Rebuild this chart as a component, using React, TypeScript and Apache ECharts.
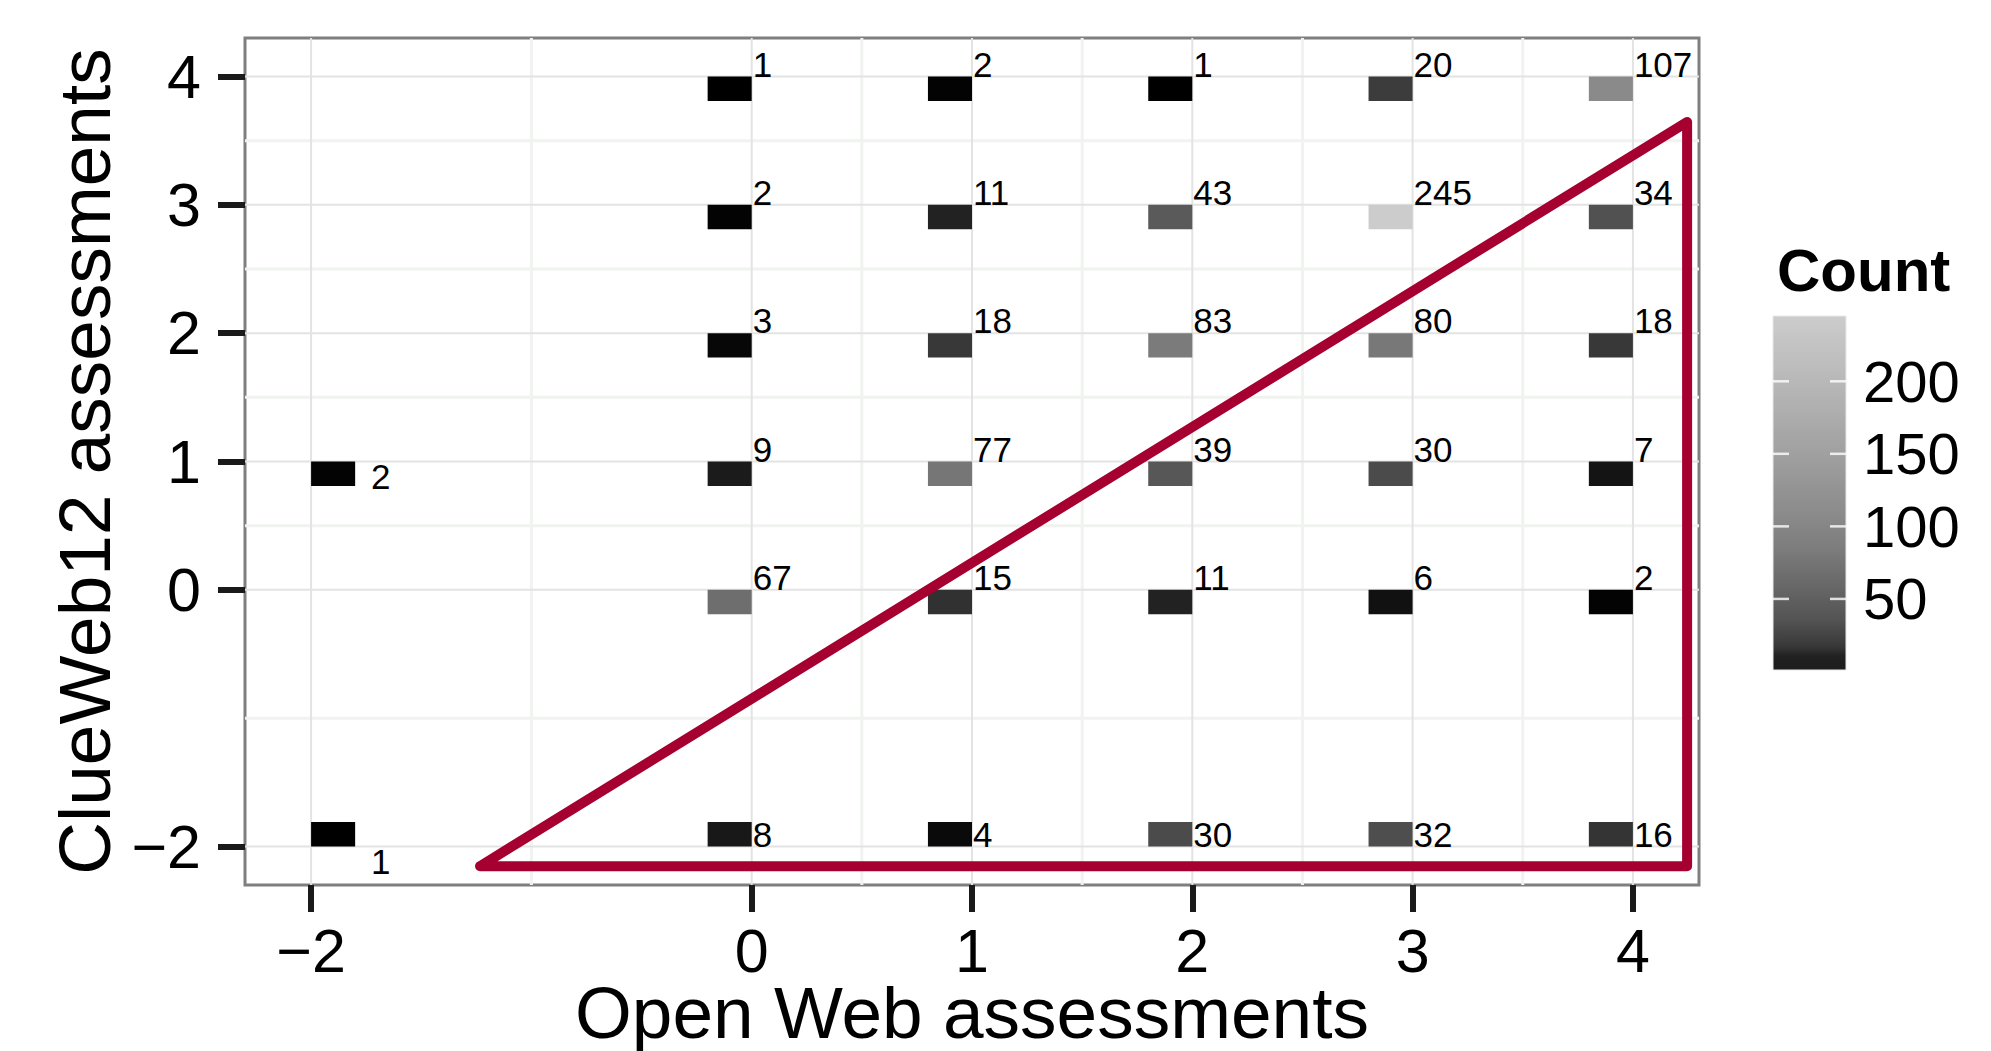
import React, { useEffect, useRef } from "react";
import * as echarts from "echarts";

// ---- data ----
const openWebScores = [0, 1, 2, 3, 4, 0, 1, 2, 3, 4, 0, 1, 2, 3, 4, -2, 0, 1, 2, 3, 4, 0, 1, 2, 3, 4, -2, 0, 1, 2, 3, 4];
const clueWebScores = [4, 4, 4, 4, 4, 3, 3, 3, 3, 3, 2, 2, 2, 2, 2, 1, 1, 1, 1, 1, 1, 0, 0, 0, 0, 0, -2, -2, -2, -2, -2, -2];
const counts = [1, 2, 1, 20, 107, 2, 11, 43, 245, 34, 3, 18, 83, 80, 18, 2, 9, 77, 39, 30, 7, 67, 15, 11, 6, 2, 1, 8, 4, 30, 32, 16];

const xTickValues = [-2, 0, 1, 2, 3, 4];
const yTickValues = [-2, 0, 1, 2, 3, 4];
const xMinorGrid = [-1, 0.5, 1.5, 2.5, 3.5];
const yMinorGrid = [-1, 0.5, 1.5, 2.5, 3.5];
const legendTicks = [50, 100, 150, 200];
const countRange = [1, 245];
const axisRange = [-2.3, 4.3];

// annotation triangle (data coordinates)
const triangleX = [-1.233, 4.246, 4.246, -1.233];
const triangleY = [-2.153, -2.153, 3.646, -2.153];

// ---- style ----
const FONT = '"Liberation Sans", Arial, Helvetica, sans-serif';
const TILE_W = 0.2;
const TILE_H = 0.19;
const greyAnchors: [number, number][] = [
  [1, 0], [2, 5], [3, 10], [4, 12], [6, 17], [8, 28], [11, 34], [15, 50], [20, 61], [30, 74],
  [34, 82], [43, 90], [67, 110], [80, 121], [107, 138], [150, 160], [200, 184], [245, 204],
];
function greyFor(v: number, floor = 0): string {
  let g = greyAnchors[greyAnchors.length - 1][1];
  for (let i = 0; i < greyAnchors.length - 1; i++) {
    const [a, ga] = greyAnchors[i];
    const [b, gb] = greyAnchors[i + 1];
    if (v <= a) { g = ga; break; }
    if (v <= b) { g = ga + ((v - a) / (b - a)) * (gb - ga); break; }
  }
  g = Math.max(floor, Math.round(g));
  const h = g.toString(16).padStart(2, "0");
  return "#" + h + h + h;
}
const fmt = (v: number) => (v < 0 ? "\u2212" + Math.abs(v) : String(v));

export default function App() {
  const ref = useRef<HTMLDivElement>(null);
  useEffect(() => {
    if (!ref.current) return;
    const chart = echarts.init(ref.current, undefined, { renderer: "svg" });

    const [cMin, cMax] = countRange;
    const nStops = 50;
    const stopColors: string[] = [];
    for (let i = 0; i < nStops; i++) stopColors.push(greyFor(cMin + (i * (cMax - cMin)) / (nStops - 1)));

    const tileData = counts.map((c, i) => [openWebScores[i], clueWebScores[i], c]);
    const gridData: number[][] = [];
    xMinorGrid.forEach((v) => gridData.push([v, 0, 0]));
    yMinorGrid.forEach((v) => gridData.push([v, 1, 0]));
    xTickValues.forEach((v) => gridData.push([v, 0, 1]));
    yTickValues.forEach((v) => gridData.push([v, 1, 1]));

    // legend geometry
    const barX = 1773, barTop = 316, barW = 73, barH = 354;
    const valToY = (v: number) => barTop + barH - ((v - cMin) / (cMax - cMin)) * barH;
    const legendStops = [];
    for (let i = 0; i < nStops; i++) {
      const v = cMin + (i * (cMax - cMin)) / (nStops - 1);
      legendStops.push({ offset: i / (nStops - 1), color: greyFor(v, 0x1e) });
    }
    const legendChildren: any[] = [
      { type: "text", left: 1777, top: 240, style: { text: "Count", font: `bold 60px ${FONT}`, fill: "#000" } },
      {
        type: "rect",
        shape: { x: barX, y: barTop, width: barW, height: barH },
        style: { fill: new echarts.graphic.LinearGradient(0, 1, 0, 0, legendStops), stroke: "#e8e8e8", lineWidth: 1 },
      },
    ];
    legendTicks.forEach((t) => {
      const y = valToY(t);
      legendChildren.push(
        { type: "line", shape: { x1: barX, y1: y, x2: barX + 16, y2: y }, style: { stroke: "rgba(255,255,255,0.8)", lineWidth: 2.5 } },
        { type: "line", shape: { x1: barX + barW - 16, y1: y, x2: barX + barW, y2: y }, style: { stroke: "rgba(255,255,255,0.8)", lineWidth: 2.5 } },
        { type: "text", x: 1863, y, style: { text: String(t), font: `58px ${FONT}`, fill: "#000", textAlign: "left", textVerticalAlign: "middle", align: "left", verticalAlign: "middle" } }
      );
    });

    const axisCommon = {
      type: "value",
      min: axisRange[0],
      max: axisRange[1],
      axisLine: { show: false, onZero: false },
      splitLine: { show: false },
      nameLocation: "middle",
    };

    chart.setOption({
      animation: false,
      backgroundColor: "#ffffff",
      grid: {
        left: 245, right: 292, top: 38, bottom: 166,
        containLabel: false, outerBoundsMode: "none",
        show: true, borderColor: "#7f7f7f", borderWidth: 3, backgroundColor: "#ffffff",
      },
      xAxis: {
        ...axisCommon,
        position: "bottom",
        name: "Open Web assessments",
        nameGap: 94,
        nameMoveOverlap: false,
        nameTextStyle: { fontFamily: FONT, fontSize: 73, lineHeight: 66, color: "#000" },
        axisTick: { show: true, length: 27, customValues: xTickValues, lineStyle: { color: "#1a1a1a", width: 6 } },
        axisLabel: { customValues: xTickValues, margin: 46, lineHeight: 40, formatter: fmt, fontFamily: FONT, fontSize: 61, color: "#000" },
      },
      yAxis: {
        ...axisCommon,
        position: "left",
        name: "ClueWeb12 assessments",
        nameGap: 104,
        nameTextStyle: { fontFamily: FONT, fontSize: 73, color: "#000" },
        axisTick: { show: true, length: 27, customValues: yTickValues, lineStyle: { color: "#1a1a1a", width: 6 } },
        axisLabel: { customValues: yTickValues, margin: 44, formatter: fmt, fontFamily: FONT, fontSize: 61, color: "#000" },
      },
      visualMap: {
        type: "continuous",
        show: false,
        min: cMin,
        max: cMax,
        dimension: 2,
        seriesIndex: 1,
        inRange: { color: stopColors },
      },
      series: [
        {
          type: "custom",
          name: "grid",
          data: gridData,
          silent: true,
          z: 1,
          renderItem: (params: any, api: any) => {
            const v = api.value(0);
            const isX = api.value(1) === 0;
            const major = api.value(2) === 1;
            const cs = params.coordSys;
            const style = { stroke: major ? "#e3e3e3" : "#f0f3f0", lineWidth: major ? 2 : 3 };
            if (isX) {
              const px = api.coord([v, 0])[0];
              return { type: "line", shape: { x1: px, y1: cs.y, x2: px, y2: cs.y + cs.height }, style };
            }
            const py = api.coord([0, v])[1];
            return { type: "line", shape: { x1: cs.x, y1: py, x2: cs.x + cs.width, y2: py }, style };
          },
        },
        {
          type: "custom",
          name: "Count",
          data: tileData,
          z: 3,
          renderItem: (params: any, api: any) => {
            const x = api.value(0);
            const y = api.value(1);
            const c = api.value(2);
            const leftCol = x === -2;
            const x0 = leftCol ? x : x - TILE_W;
            const y0 = y === -2 ? y : y - TILE_H;
            const pTL = api.coord([x0, y0 + TILE_H]);
            const pBR = api.coord([x0 + TILE_W, y0]);
            const a = api.coord([x, y]);
            return {
              type: "group",
              children: [
                {
                  type: "rect",
                  shape: { x: pTL[0], y: pTL[1], width: pBR[0] - pTL[0], height: pBR[1] - pTL[1] },
                  style: { fill: api.visual("color") },
                },
                {
                  type: "text",
                  x: leftCol ? a[0] + 60 : a[0] + 1,
                  y: leftCol ? a[1] - 3 : a[1] + 5,
                  style: {
                    text: String(c),
                    fill: "#000",
                    font: `35px ${FONT}`,
                    textAlign: "left",
                    align: "left",
                    textVerticalAlign: leftCol ? "top" : "bottom",
                    verticalAlign: leftCol ? "top" : "bottom",
                  },
                },
              ],
            };
          },
        },
        {
          type: "line",
          name: "highlight",
          data: triangleX.map((x, i) => [x, triangleY[i]]),
          symbol: "none",
          silent: true,
          z: 5,
          lineStyle: { color: "#a50030", width: 10, join: "round", cap: "round" },
        },
      ],
      graphic: legendChildren,
    });
    return () => chart.dispose();
  }, []);
  return <div ref={ref} style={{ position: "fixed", left: 0, top: 0, width: 1991, height: 1051, background: "#fff" }} />;
}
